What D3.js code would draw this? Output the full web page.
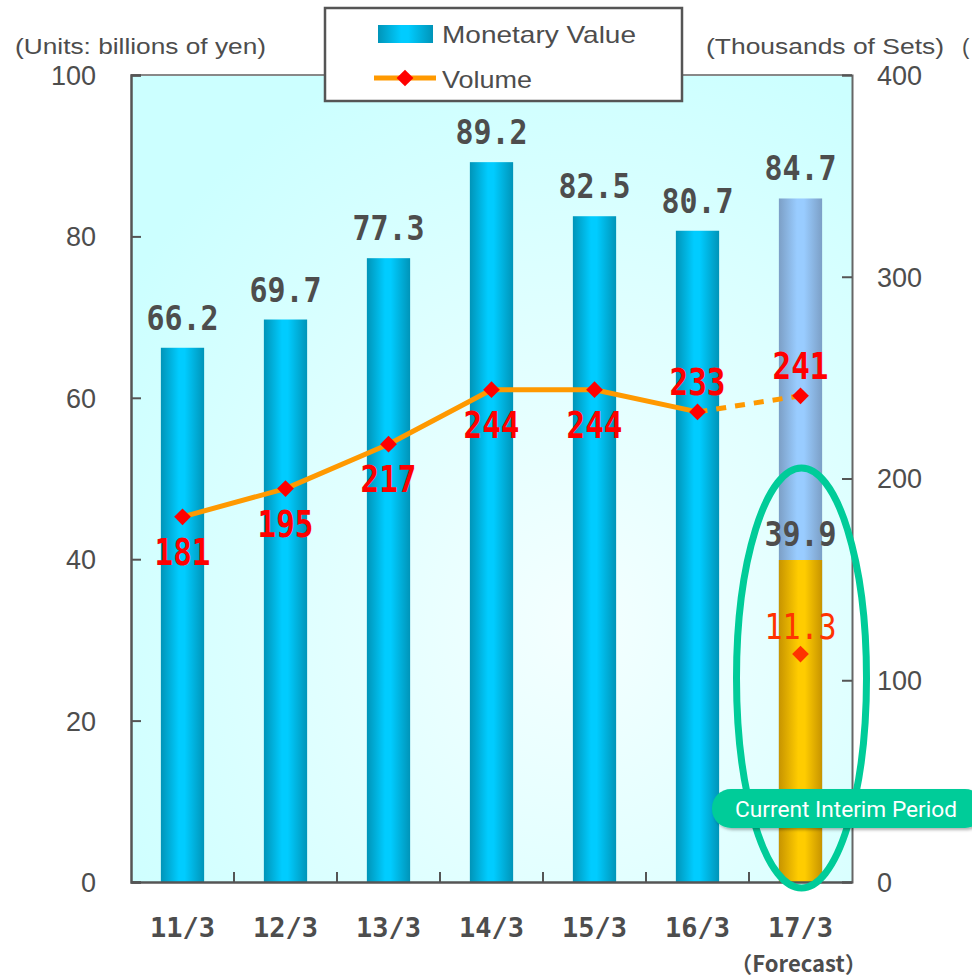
<!DOCTYPE html>
<html>
<head>
<meta charset="utf-8">
<script src="https://cdn.jsdelivr.net/npm/d3@7"></script>
<style>
  html, body { margin: 0; padding: 0; background: #fff; }
  svg { display: block; }
</style>
</head>
<body>
<svg id="chart" width="972" height="977"></svg>
<script>
// Fiscal years (year/month of fiscal year end)
const categories = ["11/3", "12/3", "13/3", "14/3", "15/3", "16/3", "17/3"];
// Monetary value, billions of yen (17/3 is a full-year forecast)
const monetaryValue = [66.2, 69.7, 77.3, 89.2, 82.5, 80.7, 84.7];
// Volume, thousands of sets
const volume = [181, 195, 217, 244, 244, 233, 241];
// Results for the current interim period of 17/3
const interimValue = 39.9;       // billions of yen
const interimVolume = 11.3;      // ten thousands of sets
const leftTicks = [0, 20, 40, 60, 80, 100];
const rightTicks = [0, 100, 200, 300, 400];
// Where each volume label sits relative to its point
const volumeLabelSide = ["below", "below", "below", "below", "below", "above", "above"];

const svg = d3.select("#chart");
const M = { left: 131, right: 852, top: 75, bottom: 882 };

const x = d3.scaleBand().domain(categories).range([M.left, M.right]).paddingInner(0.58).paddingOuter(0.29);
const xCat = d3.scaleBand().domain(categories).range([M.left, M.right]);
const yL = d3.scaleLinear().domain([0, 100]).range([M.bottom, M.top]);
const yR = d3.scaleLinear().domain([0, 400]).range([M.bottom, M.top]);
const yI = d3.scaleLinear().domain([0, 40]).range([M.bottom, M.top]);

const defs = svg.append("defs");
function hGrad(id, stops) {
  const g = defs.append("linearGradient").attr("id", id).attr("x1", 0).attr("x2", 1).attr("y1", 0).attr("y2", 0);
  stops.forEach(([o, c]) => g.append("stop").attr("offset", o).attr("stop-color", c));
}
hGrad("barBlue", [[0, "#0094b8"], [0.42, "#00ccff"], [0.55, "#00ccff"], [1, "#0094b8"]]);
hGrad("barLight", [[0, "#7c9fc6"], [0.42, "#99ccff"], [0.58, "#99ccff"], [1, "#7c9fc6"]]);
hGrad("barGold", [[0, "#c79400"], [0.45, "#ffcc00"], [0.6, "#ffcc00"], [1, "#c79400"]]);
const bg = defs.append("radialGradient").attr("id", "plotBg")
  .attr("cx", 0.62).attr("cy", 0.68).attr("r", 0.75);
bg.append("stop").attr("offset", 0).attr("stop-color", "#f4ffff");
bg.append("stop").attr("offset", 1).attr("stop-color", "#ccffff");
const sh = defs.append("filter").attr("id", "shadow").attr("x", -0.1).attr("y", -0.3).attr("width", 1.3).attr("height", 1.8);
sh.append("feDropShadow").attr("dx", 2).attr("dy", 2).attr("stdDeviation", 1.5).attr("flood-color", "#000").attr("flood-opacity", 0.3);

const sans = "Liberation Sans, Arial, sans-serif";
const mono = "DejaVu Sans Mono, monospace";
const labelColor = "#4d4d4d";

// Plot background
svg.append("rect").attr("x", M.left).attr("y", M.top)
  .attr("width", M.right - M.left).attr("height", M.bottom - M.top)
  .attr("fill", "url(#plotBg)");
svg.append("line").attr("x1", M.left).attr("x2", M.right).attr("y1", M.top).attr("y2", M.top)
  .attr("stroke", "#888").attr("stroke-width", 2);

// Bars
const last = categories.length - 1;
svg.append("g").selectAll("rect").data(categories).join("rect")
  .attr("x", d => x(d)).attr("width", x.bandwidth())
  .attr("y", (d, i) => yL(monetaryValue[i]))
  .attr("height", (d, i) => yL(0) - yL(monetaryValue[i]))
  .attr("fill", (d, i) => i === last ? "url(#barLight)" : "url(#barBlue)");
svg.append("rect")
  .attr("x", x(categories[last])).attr("width", x.bandwidth())
  .attr("y", yL(interimValue)).attr("height", yL(0) - yL(interimValue))
  .attr("fill", "url(#barGold)");

// Axes
const leftAxis = svg.append("g").attr("transform", `translate(${M.left},0)`)
  .call(d3.axisLeft(yL).tickValues(leftTicks).tickSize(-10).tickPadding(35).tickFormat(d3.format("d")));
const rightAxis = svg.append("g").attr("transform", `translate(${M.right},0)`)
  .call(d3.axisRight(yR).tickValues(rightTicks).tickSize(-10).tickPadding(25).tickFormat(d3.format("d")));
[leftAxis, rightAxis].forEach(a => {
  a.select(".domain").attr("stroke", "#555").attr("stroke-width", 2.5);
  a.selectAll(".tick line").attr("stroke", "#555").attr("stroke-width", 2);
  a.selectAll(".tick text").attr("fill", labelColor).style("font-family", sans)
    .style("font-size", "27px").attr("dy", "0.35em");
});
rightAxis.select(".domain").attr("stroke", "#666").attr("stroke-width", 2);

const bottom = svg.append("g").attr("transform", `translate(0,${M.bottom})`)
  .call(d3.axisBottom(xCat).tickSize(0).tickPadding(36));
bottom.select(".domain").attr("stroke", "#555").attr("stroke-width", 2.5);
bottom.selectAll(".tick text").attr("fill", labelColor)
  .style("font-family", mono).style("font-weight", "bold").style("font-size", "27px");
// category separators
svg.append("g").selectAll("line").data(categories.slice(1)).join("line")
  .attr("x1", d => xCat(d)).attr("x2", d => xCat(d))
  .attr("y1", M.bottom).attr("y2", M.bottom - 10)
  .attr("stroke", "#555").attr("stroke-width", 2);

svg.append("text").attr("x", xCat(categories[last]) + xCat.bandwidth() / 2 - 2).attr("y", 972)
  .attr("text-anchor", "middle").attr("fill", labelColor)
  .style("font-family", "Noto Sans CJK JP, sans-serif").style("font-weight", "bold").style("font-size", "22px")
  .text("（Forecast）");

// Unit captions
svg.append("text").attr("x", 15).attr("y", 54).attr("fill", labelColor)
  .style("font-family", sans).style("font-size", "22px")
  .attr("textLength", 251).attr("lengthAdjust", "spacingAndGlyphs")
  .text("(Units: billions of yen)");
svg.append("text").attr("x", 706).attr("y", 54).attr("fill", labelColor)
  .style("font-family", sans).style("font-size", "22px")
  .attr("textLength", 238).attr("lengthAdjust", "spacingAndGlyphs")
  .text("(Thousands of Sets)");
svg.append("text").attr("x", 962).attr("y", 54).attr("fill", labelColor)
  .style("font-family", sans).style("font-size", "22px")
  .text("(");

// Volume line
const cx = d => xCat(d) + xCat.bandwidth() / 2;
const line = d3.line().x(d => cx(d.c)).y(d => yR(d.v));
const pts = categories.map((c, i) => ({ c, v: volume[i] }));
svg.append("path").datum(pts.slice(0, last)).attr("d", line)
  .attr("fill", "none").attr("stroke", "#ff9900").attr("stroke-width", 5).attr("stroke-linejoin", "round");
svg.append("path").datum(pts.slice(last - 1)).attr("d", line)
  .attr("fill", "none").attr("stroke", "#ff9900").attr("stroke-width", 5).attr("stroke-dasharray", "10,9");

const marker = d3.symbol().type(d3.symbolSquare).size(140);
svg.append("g").selectAll("path").data(pts).join("path")
  .attr("d", marker)
  .attr("transform", d => `translate(${cx(d.c)},${yR(d.v)}) rotate(45)`)
  .attr("fill", "#ff0000");

// Interim volume point
svg.append("path").attr("d", marker())
  .attr("transform", `translate(${cx(categories[last])},${yI(interimVolume)}) rotate(45)`)
  .attr("fill", "#ff3300");

// Value labels (tall gothic look: stretched vertically)
function label(g, px, py, txt, color, size, weight, sy) {
  g.append("text").attr("transform", `translate(${px},${py}) scale(1,${sy})`)
    .attr("text-anchor", "middle").attr("fill", color)
    .style("font-family", mono).style("font-weight", weight).style("font-size", size + "px")
    .text(txt);
}
const lv = svg.append("g");
categories.forEach((c, i) => label(lv, cx(c), yL(monetaryValue[i]) - 18, monetaryValue[i].toFixed(1), labelColor, 30, "bold", 1.15));
label(lv, cx(categories[last]), yL(interimValue) - 14, interimValue.toFixed(1), labelColor, 30, "bold", 1.15);

pts.forEach((d, i) => label(lv, cx(d.c),
  volumeLabelSide[i] === "below" ? yR(d.v) + 48 : yR(d.v) - 17,
  d.v, "#ff0000", 31, "bold", 1.22));
label(lv, cx(categories[last]), yI(interimVolume) - 15, interimVolume.toFixed(1), "#ff3300", 30, "normal", 1.2);

// Highlight of the current interim period
svg.append("ellipse").attr("cx", cx(categories[last]) + 1).attr("cy", 678)
  .attr("rx", 65).attr("ry", 210)
  .attr("fill", "none").attr("stroke", "#00cc99").attr("stroke-width", 7);
const badge = svg.append("g").attr("filter", "url(#shadow)");
badge.append("rect").attr("x", 712).attr("y", 789).attr("width", 272).attr("height", 39).attr("rx", 19)
  .attr("fill", "#00cc99");
svg.append("text").attr("x", 735).attr("y", 817).attr("fill", "#fff")
  .style("font-family", "Roboto, sans-serif").style("font-size", "22px")
  .attr("textLength", 222).attr("lengthAdjust", "spacingAndGlyphs")
  .text("Current Interim Period");

// Legend
const lg = svg.append("g");
lg.append("rect").attr("x", 325).attr("y", 8).attr("width", 357).attr("height", 93)
  .attr("fill", "#fff").attr("stroke", "#555").attr("stroke-width", 2.5);
lg.append("rect").attr("x", 378).attr("y", 25).attr("width", 55).attr("height", 18).attr("fill", "url(#barBlue)");
lg.append("text").attr("x", 442).attr("y", 43).attr("fill", labelColor)
  .style("font-family", sans).style("font-size", "24px")
  .attr("textLength", 194).attr("lengthAdjust", "spacingAndGlyphs").text("Monetary Value");
lg.append("line").attr("x1", 374).attr("x2", 436).attr("y1", 78).attr("y2", 78)
  .attr("stroke", "#ff9900").attr("stroke-width", 5);
lg.append("path").attr("d", marker())
  .attr("transform", "translate(405,78) rotate(45)").attr("fill", "#ff0000");
lg.append("text").attr("x", 442).attr("y", 88).attr("fill", labelColor)
  .style("font-family", sans).style("font-size", "24px")
  .attr("textLength", 90).attr("lengthAdjust", "spacingAndGlyphs").text("Volume");
</script>
</body>
</html>
